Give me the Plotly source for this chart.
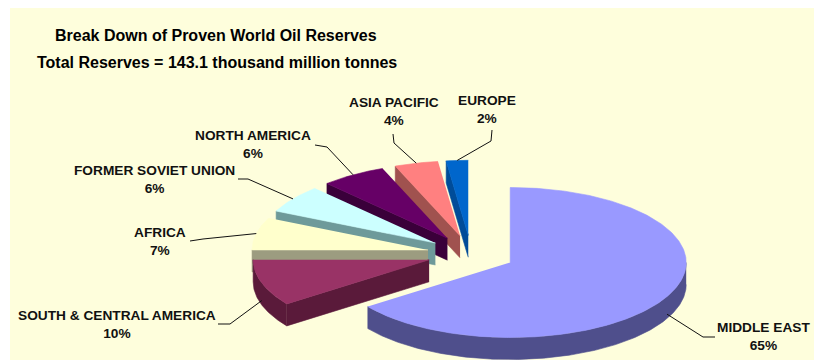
import numpy as np
import plotly.graph_objects as go

# ---------------- data ----------------
regions = ["MIDDLE EAST", "SOUTH & CENTRAL AMERICA", "AFRICA", "FORMER SOVIET UNION",
           "NORTH AMERICA", "ASIA PACIFIC", "EUROPE"]
shares = [65, 10, 7, 6, 6, 4, 2]
title_line1 = "Break Down of Proven World Oil Reserves"
title_line2 = "Total Reserves = 143.1 thousand million tonnes"

# ---------------- styles ----------------
top_colors = ["#9999FF", "#993366", "#FFFFCC", "#CCFFFF", "#660066", "#FF8080", "#0066CC"]
curve_colors = ["#4F4F8C", "#5A1A3A", "#9C9C80", "#6E9A9A", "#3A003A", "#A0524F", "#004C99"]
radial_colors = ["#4F4F8C", "#5A1A3A", "#9C9C80", "#6E9A9A", "#3A003A", "#A0524F", "#004C99"]
BG = "#FEFEDC"
W, H = 814, 360
LEFT, TOP = 10, 8

# pie geometry (pixel space)
CX, CY = 471, 254
RX, RY = 176, 75
DEPTH = 22
EXPLODE = 0.25

# label layout: (x, y) of block centre, leader start, leader elbow
label_layout = {
    "MIDDLE EAST": ((763, 336), (715, 337), (703, 337)),
    "SOUTH & CENTRAL AMERICA": ((117, 324.5), (218, 324), (230, 324)),
    "AFRICA": ((160, 241), (190, 241), (203, 239)),
    "FORMER SOVIET UNION": ((154, 179.5), (238, 179), (248, 179)),
    "NORTH AMERICA": ((253, 144), (315, 145), (327, 147)),
    "ASIA PACIFIC": ((394, 111), (393, 134), (394, 143)),
    "EUROPE": ((487, 109), (492, 130), (491, 141)),
}

total = float(sum(shares))
frac = np.array(shares, dtype=float) / total
ends = np.cumsum(frac) * 360.0
starts = ends - frac * 360.0
mids = (starts + ends) / 2.0


def centre(mid):
    r = np.radians(mid)
    return CX + EXPLODE * RX * np.sin(r), CY - EXPLODE * RY * np.cos(r)


def arc(cx, cy, a, b, n=None, dy=0.0):
    if n is None:
        n = max(4, int(abs(b - a) * 1.5))
    th = np.radians(np.linspace(a, b, n))
    return cx + RX * np.sin(th), cy - RY * np.cos(th) + dy


fig = go.Figure()


def poly(xs, ys, color):
    fig.add_trace(go.Scatter(x=list(xs), y=list(ys), mode="lines", fill="toself",
                             fillcolor=color, line=dict(color=color, width=0.6),
                             hoverinfo="skip", showlegend=False))


order = sorted(range(len(shares)), key=lambda i: -np.cos(np.radians(mids[i])))
for i in order:
    a, b = starts[i], ends[i]
    cx, cy = centre(mids[i])
    # curved outer side (front half only)
    ca, cb = max(a, 90.0), min(b, 270.0)
    if ca < cb:
        tx, ty = arc(cx, cy, ca, cb)
        bx, by = arc(cx, cy, cb, ca, dy=DEPTH)
        poly(np.concatenate([tx, bx]), np.concatenate([ty, by]), curve_colors[i])
    # radial faces
    for th, visible in ((a, np.sin(np.radians(a)) < -1e-6), (b, np.sin(np.radians(b)) > 1e-6)):
        if visible:
            px = cx + RX * np.sin(np.radians(th))
            py = cy - RY * np.cos(np.radians(th))
            poly([cx, px, px, cx], [cy, py, py + DEPTH, cy + DEPTH], radial_colors[i])
    # top face
    tx, ty = arc(cx, cy, a, b)
    poly(np.concatenate([[cx], tx]), np.concatenate([[cy], ty]), top_colors[i])

# labels and leader lines
LABEL_FONT = dict(family="Liberation Sans, Arial, sans-serif", size=13.7, color="#111111", weight=700)
for i, name in enumerate(regions):
    (lx, ly), (sx, sy), (ex, ey) = label_layout[name]
    m = np.radians(mids[i])
    cx, cy = centre(mids[i])
    axp = cx + RX * np.sin(m)
    ayp = cy - RY * np.cos(m) + (DEPTH * 0.8 if np.cos(m) < 0 else 0)
    fig.add_trace(go.Scatter(x=[sx, ex, axp], y=[sy, ey, ayp], mode="lines",
                             line=dict(color="#111111", width=1), hoverinfo="skip",
                             showlegend=False))
    pct = f"{shares[i] / total * 100:.0f}%"
    fig.add_annotation(x=lx, y=ly, xref="x", yref="y", text=f"{name}<br>{pct}",
                       showarrow=False, font=LABEL_FONT, align="center",
                       xanchor="center", yanchor="middle")

TITLE_FONT = dict(family="Liberation Sans, Arial, sans-serif", size=16, color="#000000", weight=700)
fig.add_annotation(x=216, y=35, xref="x", yref="y", text=title_line1, showarrow=False,
                   font=TITLE_FONT, xanchor="center", yanchor="middle")
fig.add_annotation(x=217, y=62, xref="x", yref="y", text=title_line2, showarrow=False,
                   font=TITLE_FONT, xanchor="center", yanchor="middle")

fig.update_layout(
    width=W, height=H, autosize=False,
    margin=dict(l=0, r=0, t=0, b=0, pad=0),
    paper_bgcolor="#FFFFFF", plot_bgcolor=BG,
    showlegend=False,
    xaxis=dict(domain=[LEFT / W, 1], range=[LEFT, W], visible=False, fixedrange=True),
    yaxis=dict(domain=[0, 1 - TOP / H], range=[H, TOP], visible=False, fixedrange=True),
)

fig.write_html("out.html")
